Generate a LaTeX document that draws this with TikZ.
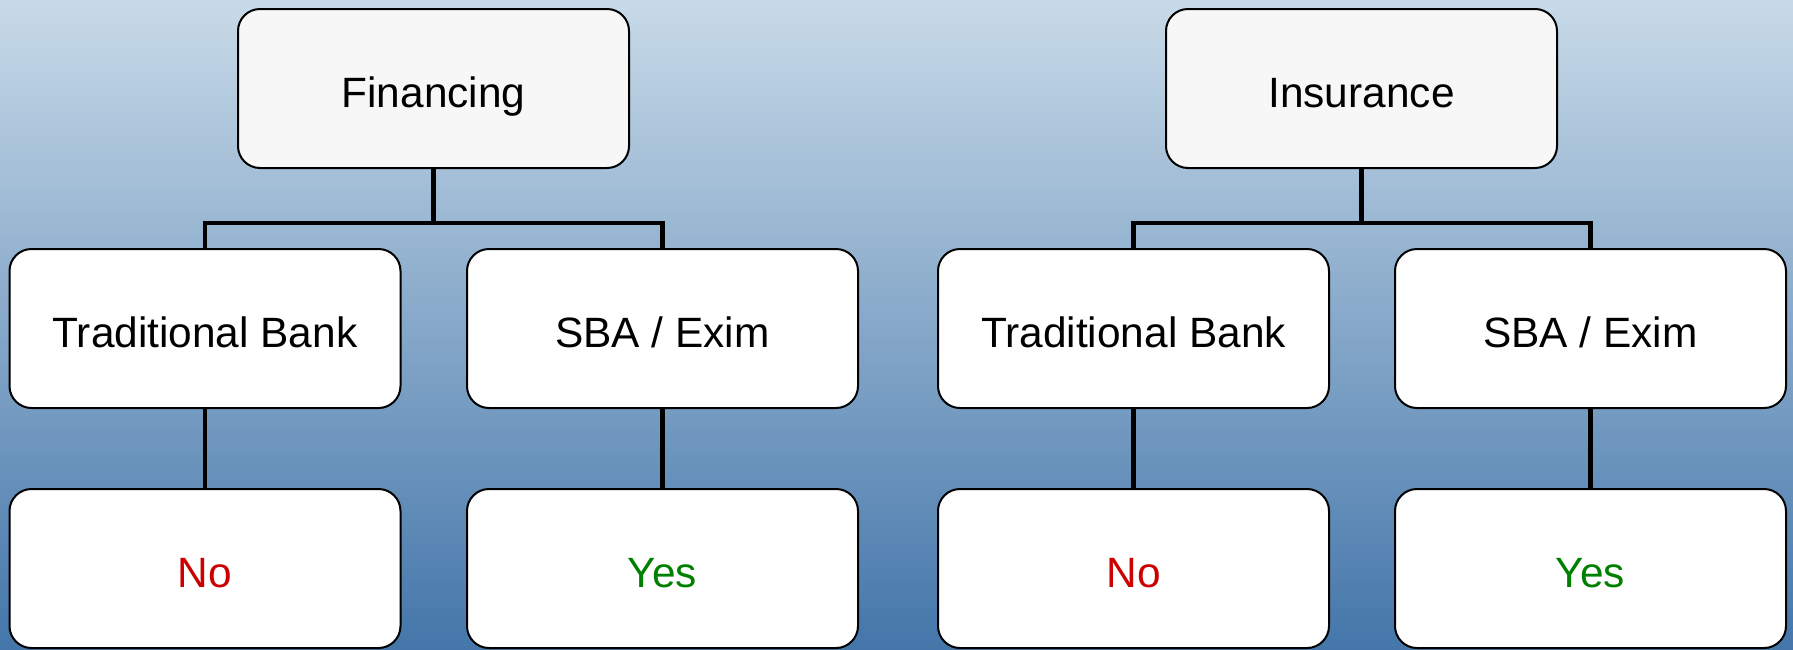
\documentclass[tikz,border=0pt]{standalone}
\usepackage{fontspec}
\setmainfont{Liberation Sans}
\usetikzlibrary{positioning}

\definecolor{bgtop}{RGB}{200,218,232}
\definecolor{bgbot}{RGB}{68,118,170}
\definecolor{nored}{RGB}{204,0,0}
\definecolor{yesgreen}{RGB}{0,128,0}
\definecolor{headfill}{RGB}{247,247,247}

\tikzset{
  box/.style={draw=black, line width=1pt, fill=white, rounded corners=11pt,
    minimum width=195.5pt, minimum height=79.5pt, inner sep=0pt,
    text height=18.6pt, text depth=0pt,
    font=\fontsize{21.2}{25}\selectfont},
  headbox/.style={box, fill=headfill},
  link/.style={line width=2.2pt, black}
}

\begin{document}
\begin{tikzpicture}[x=.5pt,y=-.5pt]
\useasboundingbox (0,0) rectangle (1793,649);
\shade[top color=bgtop, bottom color=bgbot] (0,0) rectangle (1793,649);

% top row
\node[headbox] (fin) at (433.5,88.5) {Financing};
\node[headbox] (ins) at (1361.5,88.5) {Insurance};

% middle row
\node[box] (tbfin) at (205,328.5) {Traditional Bank};
\node[box] (sbafin) at (662.5,328.5) {SBA / Exim};
\node[box] (tbins) at (1133.5,328.5) {Traditional Bank};
\node[box] (sbains) at (1590.5,328.5) {SBA / Exim};

% bottom row
\node[box, text=nored] (nofin) at (205,568.5) {No};
\node[box, text=yesgreen] (yesfin) at (662.5,568.5) {Yes};
\node[box, text=nored] (noins) at (1133.5,568.5) {No};
\node[box, text=yesgreen] (yesins) at (1590.5,568.5) {Yes};

\coordinate (finbar) at (433.5,223);
\coordinate (insbar) at (1361.5,223);

\draw[link] (fin.south) -- (finbar) -| (tbfin.north);
\draw[link] (finbar) -| (sbafin.north);
\draw[link] (ins.south) -- (insbar) -| (tbins.north);
\draw[link] (insbar) -| (sbains.north);

\draw[link] (tbfin) -- (nofin);
\draw[link] (sbafin) -- (yesfin);
\draw[link] (tbins) -- (noins);
\draw[link] (sbains) -- (yesins);

\end{tikzpicture}
\end{document}
